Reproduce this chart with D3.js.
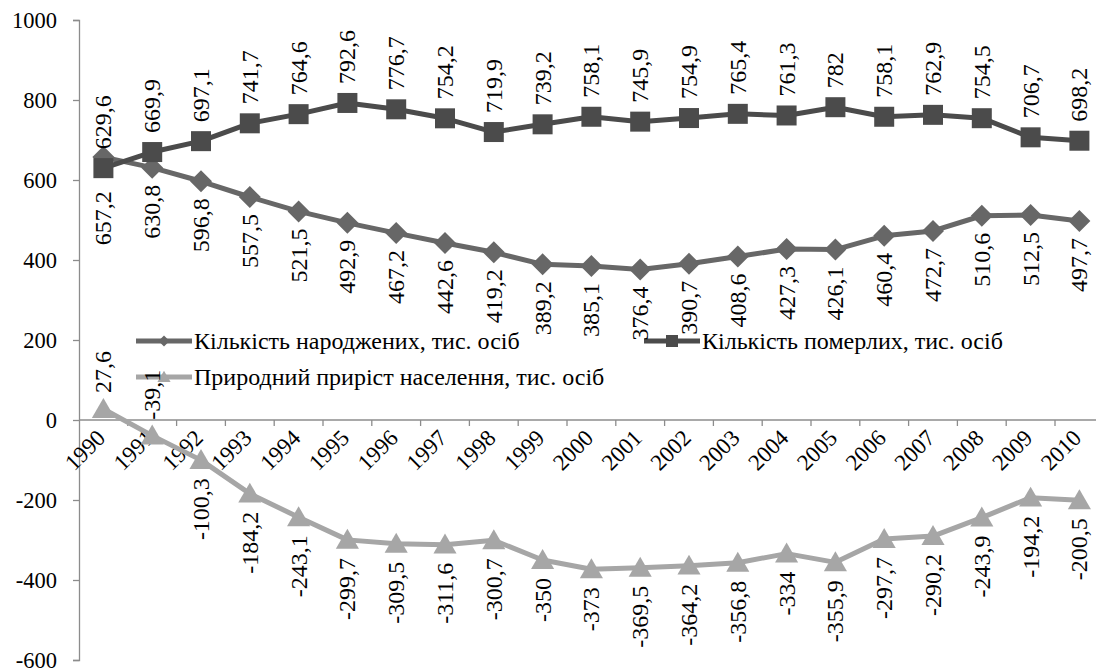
<!DOCTYPE html>
<html>
<head>
<meta charset="utf-8">
<script src="https://cdn.jsdelivr.net/npm/d3@7"></script>
<style>
  html, body { margin: 0; padding: 0; background: #fff; }
  svg { display: block; }
  svg text { font-family: "Liberation Serif", "Times New Roman", serif; fill: #000; }
</style>
</head>
<body>
<svg id="chart" width="1096" height="668"></svg>
<script>
// Years on the category axis
const years = ["1990","1991","1992","1993","1994","1995","1996","1997","1998","1999",
               "2000","2001","2002","2003","2004","2005","2006","2007","2008","2009","2010"];

// Births, thousand persons
const births = [657.2, 630.8, 596.8, 557.5, 521.5, 492.9, 467.2, 442.6, 419.2, 389.2,
                385.1, 376.4, 390.7, 408.6, 427.3, 426.1, 460.4, 472.7, 510.6, 512.5, 497.7];

// Deaths, thousand persons
const deaths = [629.6, 669.9, 697.1, 741.7, 764.6, 792.6, 776.7, 754.2, 719.9, 739.2,
                758.1, 745.9, 754.9, 765.4, 761.3, 782, 758.1, 762.9, 754.5, 706.7, 698.2];

// Natural increase, thousand persons
const natural = [27.6, -39.1, -100.3, -184.2, -243.1, -299.7, -309.5, -311.6, -300.7, -350,
                 -373, -369.5, -364.2, -356.8, -334, -355.9, -297.7, -290.2, -243.9, -194.2, -200.5];

const yTicks = [-600, -400, -200, 0, 200, 400, 600, 800, 1000];

const seriesNames = [
  "Кількість народжених, тис. осіб",
  "Кількість померлих, тис. осіб",
  "Природний приріст населення, тис. осіб"
];

const svg = d3.select("#chart");

const left = 79, band = 48.8;
const x = d3.scaleBand().domain(years).range([left, left + band * years.length]).padding(0);
const y = d3.scaleLinear().domain([-600, 1000]).range([660, 20]);
const cx = d => x(d) + x.bandwidth() / 2;

const fmt = v => String(v).replace(".", ",");
const axisColor = "#8c8c8c";
const labelSize = 24;

// Value axis
const yAxis = svg.append("g")
  .attr("transform", `translate(${left},0)`)
  .call(d3.axisLeft(y).tickValues(yTicks).tickSize(6).tickPadding(16).tickFormat(d => String(d)));
yAxis.attr("font-family", null);
yAxis.select(".domain").attr("stroke", axisColor).attr("stroke-width", 1.3);
yAxis.selectAll(".tick line").attr("stroke", axisColor).attr("stroke-width", 1.3);
yAxis.selectAll(".tick text").attr("font-size", 22.5).attr("fill", "#000");

// Category axis crossing at zero, ticks between categories
const xAxisG = svg.append("g").attr("transform", `translate(0,${y(0)})`);
xAxisG.append("line")
  .attr("x1", left).attr("x2", left + band * years.length)
  .attr("stroke", axisColor).attr("stroke-width", 1.3);
xAxisG.selectAll("line.tk")
  .data(years)
  .join("line")
  .attr("class", "tk")
  .attr("x1", d => x(d) + band)
  .attr("x2", d => x(d) + band)
  .attr("y1", 0).attr("y2", 6)
  .attr("stroke", axisColor).attr("stroke-width", 1.3);
xAxisG.selectAll("text.yr")
  .data(years)
  .join("text")
  .attr("class", "yr")
  .attr("transform", d => `translate(${cx(d) - 2},${14}) rotate(-45)`)
  .attr("text-anchor", "end")
  .attr("dominant-baseline", "central")
  .attr("font-size", 23)
  .text(d => d);

// Series definitions
const series = [
  { name: seriesNames[0], values: births,  color: "#676767", marker: "diamond" },
  { name: seriesNames[1], values: deaths,  color: "#4b4b4b", marker: "square" },
  { name: seriesNames[2], values: natural, color: "#a6a6a6", marker: "triangle" }
];

const markerPath = (type, s) => {
  if (type === "diamond") return `M0,${-s}L${s},0L0,${s}L${-s},0Z`;
  if (type === "square") return `M${-s},${-s}H${s}V${s}H${-s}Z`;
  return `M0,${-s * 1.05}L${s * 1.1},${s * 0.85}L${-s * 1.1},${s * 0.85}Z`;
};
const markerSize = { diamond: 11, square: 10, triangle: 10.5 };

const line = d3.line().x((d, i) => cx(years[i])).y(d => y(d));

series.forEach(s => {
  const g = svg.append("g");
  g.append("path")
    .attr("d", line(s.values))
    .attr("fill", "none")
    .attr("stroke", s.color)
    .attr("stroke-width", 5)
    .attr("stroke-linejoin", "round");
  g.selectAll("path.mk")
    .data(s.values)
    .join("path")
    .attr("class", "mk")
    .attr("transform", (d, i) => `translate(${cx(years[i])},${y(d)})`)
    .attr("d", markerPath(s.marker, markerSize[s.marker]))
    .attr("fill", s.color);
});

// Legend (no background, drawn under the data labels)
const legendItems = [
  { s: series[0], x: 136, y: 341 },
  { s: series[1], x: 644, y: 341 },
  { s: series[2], x: 136, y: 377 }
];
const legend = svg.append("g");
legendItems.forEach(it => {
  const g = legend.append("g").attr("transform", `translate(${it.x},${it.y})`);
  g.append("line").attr("x1", 0).attr("x2", 56)
    .attr("stroke", it.s.color).attr("stroke-width", 5);
  g.append("path").attr("transform", "translate(28,0)")
    .attr("d", markerPath(it.s.marker, it.s.marker === "diamond" ? 5.5 : 6))
    .attr("fill", it.s.color);
  g.append("text").attr("x", 58).attr("dominant-baseline", "central")
    .attr("font-size", 24).text(it.s.name);
});

// Data labels, rotated
const labels = svg.append("g").attr("font-size", labelSize);

// Deaths: above the squares
labels.selectAll("text.dl")
  .data(deaths)
  .join("text")
  .attr("class", "dl")
  .attr("transform", (d, i) => `translate(${cx(years[i])},${y(d) - 19}) rotate(-90)`)
  .attr("text-anchor", "start")
  .attr("dominant-baseline", "central")
  .text(fmt);

// Births: below the diamonds, clear of the deaths squares
labels.selectAll("text.bl")
  .data(births)
  .join("text")
  .attr("class", "bl")
  .attr("transform", (d, i) => {
    const ty = Math.max(y(d), y(deaths[i]) + 6) + 17;
    return `translate(${cx(years[i])},${ty}) rotate(-90)`;
  })
  .attr("text-anchor", "end")
  .attr("dominant-baseline", "central")
  .text(fmt);

// Natural increase: above while near zero, below otherwise
labels.selectAll("text.nl")
  .data(natural)
  .join("text")
  .attr("class", "nl")
  .attr("transform", (d, i) => {
    const ty = d > -50 ? y(d) - 16 : y(d) + 18;
    return `translate(${cx(years[i])},${ty}) rotate(-90)`;
  })
  .attr("text-anchor", d => d > -50 ? "start" : "end")
  .attr("dominant-baseline", "central")
  .text(fmt);
</script>
</body>
</html>
